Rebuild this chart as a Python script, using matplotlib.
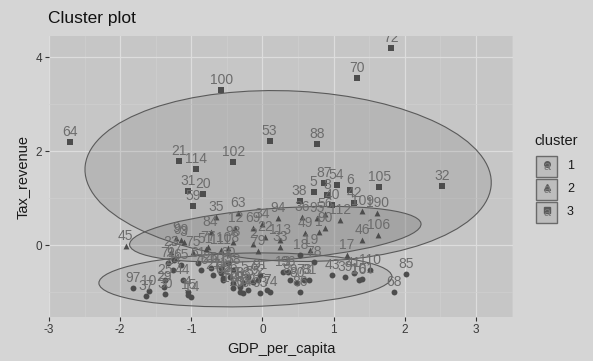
import numpy as np
import matplotlib.pyplot as plt
from matplotlib.patches import Ellipse, Rectangle

plt.rcParams['font.family'] = ['Liberation Sans', 'DejaVu Sans']

# cluster 1 (circles)
c1_labels = ["97", "10", "37", "25", "29", "30", "24", "44", "4", "15",
             "76", "26", "27", "11", "62", "66", "47", "48", "50", "52",
             "55", "57", "58", "60", "61", "65", "67", "71", "74", "91",
             "13", "89", "80", "86", "73", "81", "78", "82", "83", "92",
             "93", "96", "43", "39", "41", "16", "101", "110", "85", "68",
             "103", "104", "107", "14", "7", "18"]
c1_x = [-1.82, -1.60, -1.64, -1.37, -1.39, -1.37, -1.26, -1.12, -1.05, -1.04,
        -0.87, -0.73, -0.69, -0.59, -0.55, -0.45, -0.41, -0.31, -0.28, -0.20,
        -0.13, -0.20, -0.41, -0.49, -0.91, -1.15, -1.25, -1.33, 0.11, -0.03,
        0.29, 0.39, 0.49, 0.53, 0.58, 0.65, 0.72, -0.55, -0.27, -0.06,
        -0.03, 0.36, 0.98, 1.16, 1.28, 1.35, 1.40, 1.51, 2.02, 1.85,
        -0.59, -0.31, -0.41, -1.00, 0.07, 0.53]
c1_y = [-0.91, -0.98, -1.09, -0.74, -0.89, -1.04, -0.53, -0.74, -1.00, -1.06,
        -0.53, -0.49, -0.64, -0.60, -0.74, -0.68, -0.81, -0.89, -1.02, -0.96,
        -0.79, -0.68, -0.53, -0.38, -0.38, -0.43, -0.32, -0.38, -1.00, -0.64,
        -0.57, -0.74, -0.81, -1.00, -0.74, -0.74, -0.36, -0.70, -0.81, -0.74,
        -1.02, -0.57, -0.64, -0.68, -0.60, -0.74, -0.72, -0.53, -0.62, -1.00,
        -0.49, -1.00, -0.91, -1.11, -0.96, -0.21]

# cluster 2 (triangles)
c2_labels = ["45", "9", "99", "3", "84", "35", "63", "12", "69", "34",
             "94", "98", "2", "22", "113", "36", "95", "90", "49", "1",
             "19", "17", "46", "109", "106", "190", "56", "112", "23", "77",
             "108", "79", "75", "51", "111", "33"]
c2_x = [-1.92, -1.21, -1.15, -1.11, -0.73, -0.65, -0.35, -0.38, -0.14, 0.00,
        0.22, -0.41, -0.13, 0.04, 0.25, 0.56, 0.76, 0.88, 0.60, 0.79,
        0.67, 1.19, 1.40, 1.40, 1.63, 1.61, 0.88, 1.09, -1.29, -0.77,
        -0.49, -0.06, -0.98, -0.80, -0.59, 0.25]
c2_y = [-0.02, 0.15, 0.11, 0.06, 0.28, 0.60, 0.68, 0.36, 0.36, 0.45,
        0.57, 0.06, 0.02, 0.17, 0.11, 0.60, 0.57, 0.36, 0.26, 0.28,
        -0.11, -0.21, 0.11, 0.72, 0.21, 0.68, 0.66, 0.53, -0.15, -0.04,
        -0.06, -0.13, -0.15, -0.09, -0.11, -0.04]

# cluster 3 (squares)
c3_labels = ["64", "100", "72", "70", "53", "88", "21", "114", "102", "31",
             "20", "59", "87", "54", "5", "8", "38", "40", "6", "42",
             "105", "32"]
c3_x = [-2.71, -0.58, 1.81, 1.33, 0.10, 0.77, -1.18, -0.94, -0.41, -1.05,
        -0.84, -0.98, 0.87, 1.04, 0.72, 0.91, 0.52, 0.98, 1.23, 1.29,
        1.64, 2.52]
c3_y = [2.19, 3.30, 4.19, 3.55, 2.21, 2.15, 1.79, 1.62, 1.77, 1.15,
        1.09, 0.83, 1.32, 1.28, 1.13, 1.06, 0.94, 0.85, 1.17, 0.89,
        1.23, 1.26]

# ellipse per cluster: centre, semi axes, angle
ell_cx = [-0.24, 0.18, 0.36]
ell_cy = [-0.74, 0.23, 1.47]
ell_a = [2.06, 2.06, 2.86]
ell_b = [0.57, 0.55, 1.81]
ell_angle = [2.0, 6.5, -4.6]

clusters = [(c1_labels, c1_x, c1_y, 'o'),
            (c2_labels, c2_x, c2_y, '^'),
            (c3_labels, c3_x, c3_y, 's')]
ell_fill = ['#8c8c8c', '#555555', '#7a7a7a']

fig = plt.figure(figsize=(5.93, 3.61), dpi=100, facecolor='#d5d5d5')
ax = fig.add_axes([49 / 593, 1 - 317 / 361, 464 / 593, 281 / 361])
ax.set_facecolor('#c6c6c6')

ax.set_xlim(-2.99, 3.52)
ax.set_ylim(-1.53, 4.45)
ax.set_xticks(range(-3, 4))
ax.set_xticklabels([str(v) for v in range(-3, 4)])
ax.set_yticks([0, 2, 4])
ax.set_yticklabels(['0', '2', '4'])
ax.set_xticks(np.arange(-2.5, 3.6, 1.0), minor=True)
ax.set_yticks([-1, 1, 3], minor=True)
ax.grid(which='major', color='#dddddd', lw=0.9, zorder=0)
ax.grid(which='minor', color='#d0d0d0', lw=0.5, zorder=0)
ax.set_axisbelow(True)
for s in ax.spines.values():
    s.set_visible(False)
ax.tick_params(which='major', length=3, color='#333333', labelsize=8.5,
               labelcolor='#3a3a3a', pad=2)
ax.tick_params(which='minor', length=0)

for i in range(3):
    e = Ellipse((ell_cx[i], ell_cy[i]), 2 * ell_a[i], 2 * ell_b[i],
                angle=ell_angle[i], facecolor=ell_fill[i], alpha=0.2,
                edgecolor='none', zorder=1)
    ax.add_patch(e)
    e2 = Ellipse((ell_cx[i], ell_cy[i]), 2 * ell_a[i], 2 * ell_b[i],
                 angle=ell_angle[i], facecolor='none', edgecolor='#5a5a5a',
                 lw=0.8, zorder=1.1)
    ax.add_patch(e2)

for labels, xs, ys, m in clusters:
    ax.scatter(xs, ys, marker=m, s=18, color='#4d4d4d', lw=0, zorder=3)
    for lab, x, y in zip(labels, xs, ys):
        t = ax.annotate(lab, (x, y), xytext=(0, 4.5),
                        textcoords='offset points', ha='center',
                        va='baseline', fontsize=10, color='#6c6c6c',
                        zorder=4, annotation_clip=True)
        t.set_clip_on(True)
        t.set_clip_box(ax.bbox)

ax.set_xlabel('GDP_per_capita', fontsize=10.5, color='#1a1a1a', labelpad=4)
ax.set_ylabel('Tax_revenue', fontsize=10.5, color='#1a1a1a', labelpad=4)
fig.text(48 / 593, 1 - 19 / 361, 'Cluster plot', fontsize=12.5,
         color='#111111', va='center', ha='left')

# legend
fig.text(556 / 593, 1 - 141 / 361, 'cluster', fontsize=10.5,
         color='#1a1a1a', ha='center', va='center')
for i, (lab, m) in enumerate(zip(['1', '2', '3'], ['o', '^', 's'])):
    cy = 166 + 23 * i
    r = Rectangle((536 / 593, 1 - (cy + 10.5) / 361), 21 / 593, 21 / 361,
                  transform=fig.transFigure, facecolor='#bdbdbd',
                  edgecolor='#6a6a6a', lw=1)
    fig.add_artist(r)
    fig.text(546.5 / 593, 1 - (cy + 1) / 361, 'a', fontsize=9,
             color='#7a7a7a', ha='center', va='center')
    fig.add_artist(plt.Line2D([546.5 / 593], [1 - (cy - 2) / 361],
                              marker=m, ms=4, color='#5a5a5a', lw=0,
                              transform=fig.transFigure))
    fig.text(567 / 593, 1 - cy / 361, lab, fontsize=9, color='#1a1a1a',
             ha='left', va='center')

fig.savefig('out.png', dpi=100, facecolor=fig.get_facecolor())
